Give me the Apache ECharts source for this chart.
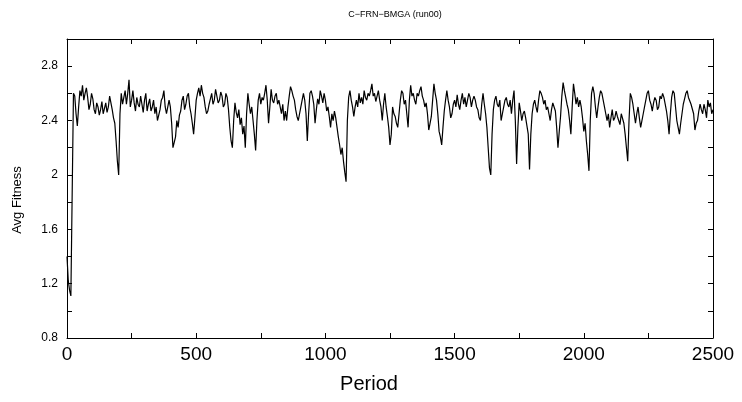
<!DOCTYPE html>
<html>
<head>
<meta charset="utf-8">
<script src="https://cdn.jsdelivr.net/npm/echarts@6/dist/echarts.min.js"></script>
<style>
  html, body { margin: 0; padding: 0; background: #fff; }
  #chart { width: 742px; height: 402px; }
</style>
</head>
<body>
<div id="chart"></div>
<script>
// average fitness, one reading every 5 periods (0 .. 2500)
const step = 5;
const avgFitness = [
  1.40, 1.22, 1.15, 1.11, 1.12, 2.60, 2.58, 2.45, 2.36, 2.50, 2.62, 2.58, 2.66, 2.55, 2.60, 2.64, 2.57, 2.48, 2.52, 2.60, // 0
  2.56, 2.48, 2.45, 2.53, 2.50, 2.44, 2.48, 2.54, 2.45, 2.49, 2.53, 2.46, 2.50, 2.58, 2.57, 2.48, 2.42, 2.38, 2.25, 2.10, // 100
  2.00, 2.45, 2.60, 2.52, 2.57, 2.62, 2.52, 2.60, 2.70, 2.50, 2.55, 2.62, 2.53, 2.47, 2.57, 2.52, 2.50, 2.58, 2.52, 2.46, // 200
  2.55, 2.60, 2.47, 2.52, 2.56, 2.47, 2.50, 2.55, 2.45, 2.50, 2.40, 2.44, 2.48, 2.55, 2.57, 2.62, 2.50, 2.45, 2.50, 2.55, // 300
  2.50, 2.38, 2.20, 2.24, 2.28, 2.40, 2.35, 2.44, 2.47, 2.55, 2.58, 2.48, 2.52, 2.58, 2.60, 2.50, 2.45, 2.38, 2.30, 2.42, // 400
  2.55, 2.60, 2.64, 2.58, 2.66, 2.60, 2.57, 2.50, 2.45, 2.47, 2.52, 2.56, 2.60, 2.52, 2.55, 2.63, 2.62, 2.53, 2.55, 2.61, // 500
  2.58, 2.50, 2.52, 2.60, 2.57, 2.48, 2.35, 2.25, 2.20, 2.40, 2.53, 2.46, 2.42, 2.48, 2.37, 2.42, 2.30, 2.36, 2.20, 2.45, // 600
  2.60, 2.52, 2.45, 2.50, 2.40, 2.30, 2.18, 2.40, 2.55, 2.60, 2.52, 2.57, 2.55, 2.60, 2.66, 2.55, 2.38, 2.50, 2.63, 2.55, // 700
  2.53, 2.58, 2.60, 2.52, 2.55, 2.50, 2.45, 2.52, 2.40, 2.47, 2.40, 2.50, 2.58, 2.65, 2.62, 2.58, 2.55, 2.48, 2.43, 2.40, // 800
  2.45, 2.50, 2.55, 2.60, 2.55, 2.45, 2.25, 2.45, 2.60, 2.62, 2.58, 2.52, 2.38, 2.48, 2.56, 2.52, 2.62, 2.58, 2.53, 2.60, // 900
  2.55, 2.47, 2.50, 2.43, 2.35, 2.45, 2.40, 2.47, 2.42, 2.35, 2.28, 2.22, 2.15, 2.20, 2.10, 2.02, 1.95, 2.40, 2.57, 2.62, // 1000
  2.55, 2.50, 2.43, 2.50, 2.55, 2.50, 2.60, 2.53, 2.57, 2.52, 2.62, 2.57, 2.55, 2.60, 2.58, 2.62, 2.67, 2.58, 2.60, 2.54, // 1100
  2.58, 2.62, 2.55, 2.50, 2.40, 2.52, 2.60, 2.50, 2.43, 2.35, 2.22, 2.30, 2.50, 2.45, 2.43, 2.38, 2.35, 2.45, 2.55, 2.62, // 1200
  2.60, 2.52, 2.55, 2.45, 2.35, 2.55, 2.66, 2.58, 2.60, 2.55, 2.52, 2.60, 2.58, 2.62, 2.65, 2.58, 2.55, 2.50, 2.53, 2.45, // 1300
  2.33, 2.38, 2.43, 2.55, 2.67, 2.60, 2.55, 2.45, 2.32, 2.28, 2.22, 2.35, 2.47, 2.55, 2.62, 2.55, 2.50, 2.42, 2.45, 2.52, // 1400
  2.55, 2.50, 2.59, 2.52, 2.48, 2.55, 2.60, 2.52, 2.57, 2.50, 2.55, 2.60, 2.57, 2.50, 2.55, 2.58, 2.55, 2.50, 2.48, 2.42, // 1500
  2.40, 2.52, 2.60, 2.52, 2.45, 2.35, 2.20, 2.05, 2.00, 2.30, 2.48, 2.55, 2.58, 2.52, 2.50, 2.55, 2.40, 2.45, 2.50, 2.55, // 1600
  2.57, 2.52, 2.50, 2.55, 2.45, 2.55, 2.62, 2.40, 2.08, 2.35, 2.53, 2.47, 2.40, 2.45, 2.47, 2.42, 2.41, 2.30, 2.04, 2.30, // 1700
  2.45, 2.52, 2.55, 2.50, 2.46, 2.55, 2.62, 2.60, 2.57, 2.52, 2.55, 2.48, 2.50, 2.45, 2.40, 2.48, 2.53, 2.50, 2.47, 2.35, // 1800
  2.20, 2.32, 2.43, 2.58, 2.68, 2.62, 2.57, 2.52, 2.48, 2.40, 2.30, 2.50, 2.67, 2.60, 2.52, 2.57, 2.50, 2.55, 2.50, 2.42, // 1900
  2.32, 2.38, 2.25, 2.15, 2.03, 2.40, 2.60, 2.65, 2.60, 2.50, 2.42, 2.50, 2.57, 2.62, 2.60, 2.55, 2.50, 2.45, 2.40, 2.45, // 2000
  2.35, 2.42, 2.48, 2.40, 2.42, 2.47, 2.43, 2.40, 2.37, 2.45, 2.44, 2.38, 2.30, 2.20, 2.10, 2.40, 2.60, 2.57, 2.52, 2.45, // 2100
  2.38, 2.45, 2.50, 2.42, 2.35, 2.40, 2.45, 2.50, 2.55, 2.60, 2.62, 2.55, 2.52, 2.47, 2.53, 2.57, 2.55, 2.48, 2.50, 2.58, // 2200
  2.56, 2.60, 2.57, 2.52, 2.47, 2.40, 2.30, 2.45, 2.57, 2.62, 2.60, 2.50, 2.40, 2.35, 2.30, 2.38, 2.45, 2.52, 2.56, 2.60, // 2300
  2.62, 2.57, 2.58, 2.52, 2.53, 2.45, 2.33, 2.38, 2.40, 2.47, 2.52, 2.48, 2.45, 2.52, 2.48, 2.42, 2.55, 2.50, 2.53, 2.45, // 2400
  2.48                                                                                                                  // 2500
];
const xTicks = [0, 500, 1000, 1500, 2000, 2500];
const yTicks = [0.8, 1.2, 1.6, 2, 2.4, 2.8];

const seriesData = avgFitness.map((v, i) => [i * step, v]);
const font = "'Liberation Sans', Arial, sans-serif";

// onZero off, otherwise the right y axis is pulled onto x = 0
const axisLine = { show: true, onZero: false, lineStyle: { color: "#000", width: 1 } };
const axisTick = { show: true, inside: true, length: 5, lineStyle: { color: "#000" } };

const chart = echarts.init(document.getElementById("chart"));
const option = {
  animation: false,
  backgroundColor: "#fff",
  title: {
    text: "C\u2212FRN\u2212BMGA (run00)",
    left: 390,
    top: 5,
    textAlign: "center",
    textStyle: { fontFamily: font, fontSize: 9, fontWeight: "normal", color: "#000" },
  },
  grid: { left: 67, right: 29, top: 39, bottom: 64 },
  // axis names placed where the reference has them
  graphic: [
    {
      type: "text",
      x: 17,
      y: 200,
      rotation: Math.PI / 2,
      style: {
        text: "Avg Fitness",
        fontFamily: font,
        fontSize: 13,
        fill: "#000",
        textAlign: "center",
        textVerticalAlign: "middle",
      },
    },
    {
      type: "text",
      x: 369,
      y: 384,
      style: {
        text: "Period",
        fontFamily: font,
        fontSize: 20,
        fill: "#000",
        textAlign: "center",
        textVerticalAlign: "middle",
      },
    },
  ],
  xAxis: [
    {
      type: "value",
      min: 0,
      max: 2500,
      interval: 250,
      axisLine,
      axisTick,
      splitLine: { show: false },
      axisLabel: {
        fontFamily: font,
        fontSize: 19,
        color: "#000",
        margin: 7,
        formatter: (v) => (xTicks.includes(v) ? String(v) : ""),
      },
    },
    {
      type: "value",
      position: "top",
      min: 0,
      max: 2500,
      interval: 250,
      axisLine,
      axisTick,
      splitLine: { show: false },
      axisLabel: { show: false },
    },
  ],
  yAxis: [
    {
      type: "value",
      position: "left",
      min: 0.8,
      max: 3.0,
      interval: 0.2,
      axisLine,
      axisTick,
      splitLine: { show: false },
      axisLabel: {
        fontFamily: font,
        fontSize: 12,
        color: "#000",
        margin: 9,
        formatter: (v) => {
          const r = parseFloat(v.toFixed(1));
          return yTicks.includes(r) ? String(r) : "";
        },
      },
    },
    {
      type: "value",
      position: "right",
      min: 0.8,
      max: 3.0,
      interval: 0.2,
      axisLine,
      axisTick,
      splitLine: { show: false },
      axisLabel: { show: false },
    },
  ],
  series: [
    {
      type: "line",
      data: seriesData,
      xAxisIndex: 0,
      yAxisIndex: 0,
      showSymbol: false,
      symbol: "none",
      lineStyle: { color: "#000", width: 1.2 },
    },
  ],
};
chart.setOption(option);
</script>
</body>
</html>
